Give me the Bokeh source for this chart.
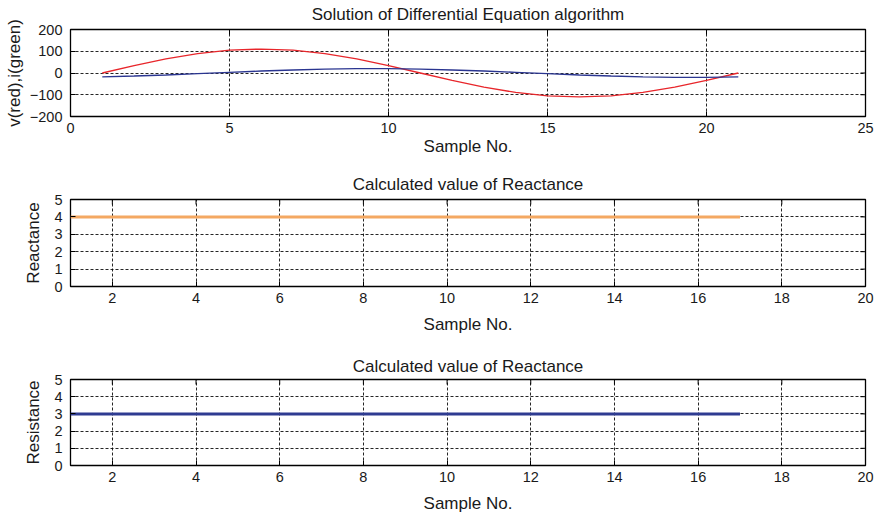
from bokeh.plotting import figure
from bokeh.layouts import column
from bokeh.models import Range1d, FixedTicker
from bokeh.embed import file_html
from bokeh.resources import INLINE

# Solution of the differential equation: voltage and current samples
samples = list(range(1, 22))
voltage = [0, 34, 65, 89, 105, 110, 105, 89, 65, 34, 0,
           -34, -65, -89, -105, -110, -105, -89, -65, -34, 0]
current = [-18, -14, -9, -3, 3, 9, 14, 18, 20, 20, 18,
           14, 9, 3, -3, -9, -14, -18, -20, -20, -18]

# Calculated parameters per sample window
calc_samples = list(range(1, 18))
reactance = [4] * 17
resistance = [3] * 17

top_xticks = [0, 5, 10, 15, 20, 25]
top_yticks = [-200, -100, 0, 100, 200]
param_xticks = [2, 4, 6, 8, 10, 12, 14, 16, 18, 20]
param_yticks = [0, 1, 2, 3, 4, 5]

FONT = "Liberation Sans"
INK = "#1a1a1a"
WIDTH = 879
BORDER_L, BORDER_R = 70, 14
TICK_LEN = 5  # px, inward


def make_panel(title, ylabel, xr, yr, xticks, yticks, height, top, bottom,
               title_standoff, ylabel_standoff, xlabel_standoff, title_valign="bottom"):
    p = figure(width=WIDTH, height=height, x_range=Range1d(*xr), y_range=Range1d(*yr),
               output_backend="svg", toolbar_location=None, tools="",
               min_border_left=BORDER_L, min_border_right=BORDER_R,
               min_border_top=top, min_border_bottom=bottom)
    p.background_fill_color = "white"
    p.border_fill_color = "white"
    p.outline_line_color = "black"
    p.outline_line_width = 1.3

    p.title.text = title
    p.title.align = "center"
    p.title.vertical_align = title_valign
    p.title.text_font = FONT
    p.title.text_font_size = "17px"
    p.title.text_font_style = "normal"
    p.title.text_color = INK
    p.title.standoff = title_standoff

    xa = p.xaxis[0]
    ya = p.yaxis[0]
    xa.ticker = FixedTicker(ticks=xticks)
    ya.ticker = FixedTicker(ticks=yticks)
    xa.axis_label = "Sample No."
    ya.axis_label = ylabel
    for ax in (xa, ya):
        ax.axis_line_color = None
        ax.major_tick_in = TICK_LEN
        ax.major_tick_out = 0
        ax.major_tick_line_color = "black"
        ax.minor_tick_line_color = None
        ax.major_label_text_font = FONT
        ax.major_label_text_font_size = "14.5px"
        ax.major_label_text_color = INK
        ax.axis_label_text_font = FONT
        ax.axis_label_text_font_size = "17px"
        ax.axis_label_text_font_style = "normal"
        ax.axis_label_text_color = INK
    xa.major_label_standoff = 6
    ya.major_label_standoff = 8
    xa.axis_label_standoff = xlabel_standoff
    ya.axis_label_standoff = ylabel_standoff

    for g in (p.xgrid[0], p.ygrid[0]):
        g.grid_line_color = "black"
        g.grid_line_alpha = 0.85
        g.grid_line_dash = "3 2"
        g.grid_line_width = 1
    p.xgrid[0].ticker = FixedTicker(ticks=xticks)
    p.ygrid[0].ticker = FixedTicker(ticks=yticks)

    # inward ticks along the top and right edges of the box
    frame_w = WIDTH - BORDER_L - BORDER_R
    frame_h = height - top - bottom
    dx = TICK_LEN * (xr[1] - xr[0]) / frame_w
    dy = TICK_LEN * (yr[1] - yr[0]) / frame_h
    p.segment(x0=xticks, x1=xticks, y0=[yr[1]] * len(xticks),
              y1=[yr[1] - dy] * len(xticks), line_color="black", line_width=1)
    p.segment(x0=[xr[1]] * len(yticks), x1=[xr[1] - dx] * len(yticks),
              y0=yticks, y1=yticks, line_color="black", line_width=1)
    return p


p1 = make_panel("Solution of Differential Equation algorithm", "v(red),i(green)",
                (0, 25), (-200, 200), top_xticks, top_yticks,
                height=160, top=29, bottom=44,
                title_standoff=8, ylabel_standoff=3, xlabel_standoff=1,
                title_valign="top")
p1.line(samples, voltage, line_color="#e8262b", line_width=1.4)
p1.line(samples, current, line_color="#2a3590", line_width=1.4)

p2 = make_panel("Calculated value of Reactance", "Reactance",
                (1, 20), (0, 5), param_xticks, param_yticks,
                height=180, top=39, bottom=54,
                title_standoff=12, ylabel_standoff=8, xlabel_standoff=9)
p2.line(calc_samples, reactance, line_color="#f4a862", line_width=3)

p3 = make_panel("Calculated value of Reactance", "Resistance",
                (1, 20), (0, 5), param_xticks, param_yticks,
                height=175, top=39, bottom=50,
                title_standoff=7, ylabel_standoff=8, xlabel_standoff=9)
p3.line(calc_samples, resistance, line_color="#2e3b91", line_width=3)

layout = column(p1, p2, p3, spacing=0)

open("out.html", "w").write(file_html(layout, INLINE))
